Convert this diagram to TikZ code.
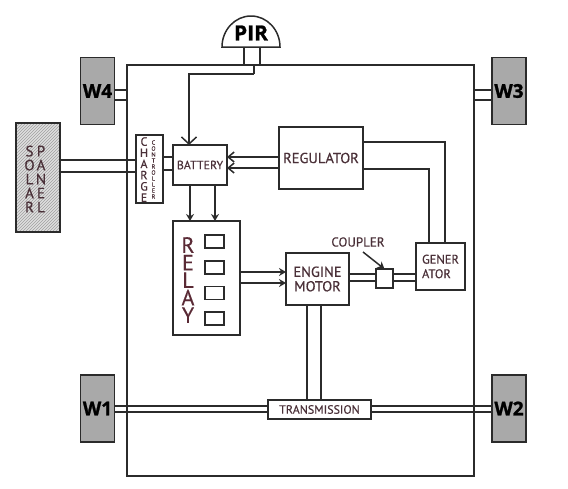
\documentclass[tikz,border=0pt]{standalone}
\usepackage{fontspec}
\setmainfont{PT Sans}[FakeBold=0.35]
\newfontfamily\wheelfont{Open Sans}[FakeBold=1.2]
\usepackage{xcolor}
\usetikzlibrary{arrows.meta, patterns}
\definecolor{wheelgray}{HTML}{A9A9A9}
\definecolor{linedark}{HTML}{2B2B2B}
\definecolor{labeltext}{HTML}{4A3038}
\definecolor{relaytext}{HTML}{5A2A35}

\begin{document}
\begin{tikzpicture}[x=1pt, y=-1pt, line width=1.5pt, draw=linedark,
    block/.style={rectangle, draw=linedark, fill=white, inner sep=0pt, outer sep=0pt, align=center,
      text=labeltext},
    wheel/.style={block, fill=wheelgray, minimum width=34pt, minimum height=67pt, text=black,
      font=\wheelfont\bfseries\fontsize{19}{19}\selectfont},
    stacked/.style={inner sep=0pt, outer sep=0pt, align=center, text=labeltext},
    wire/.style={draw=linedark, line width=1.5pt},
    barb/.style={wire, -{Straight Barb[length=6pt, width=10pt]}},
    bigbarb/.style={wire, -{Straight Barb[length=7pt, width=15pt]}},
    tip/.style={wire, -{Stealth[length=7pt, width=8pt]}}]
    \useasboundingbox (0,0) rectangle (568,488);
    \node[rectangle, draw=linedark, inner sep=0pt, outer sep=0pt, minimum width=347pt, minimum height=411pt] (frame) at (300.5,270.5) {};
    \node[wheel] (w4) at (97.5,91) {W4};
    \node[wheel] (w3) at (509,91) {W3};
    \node[wheel] (w1) at (97.5,408.5) {W1};
    \node[wheel] (w2) at (509,408.5) {W2};
    \node[inner sep=0pt, outer sep=0pt, minimum width=58pt, minimum height=28pt, text=black,
      font=\wheelfont\bfseries\fontsize{21}{21}\selectfont] (pir) at (251,33) {PIR};
    \draw[wire, fill=none] (pir.south west) arc[start angle=180, end angle=360, x radius=29, y radius=31] -- cycle;
    \node[block, preaction={fill=gray!25}, pattern=north east lines, pattern color=gray!75, minimum width=44pt, minimum height=109pt] (solar) at (38,177.5) {};
    \node[stacked, font=\fontsize{15}{14}\selectfont] (solartext) at (29.5,179) {S\\O\\L\\A\\R};
    \node[stacked, font=\fontsize{15}{14}\selectfont] (paneltext) at (41,179) {P\\A\\N\\E\\L};
    \node[block, minimum width=27pt, minimum height=68pt] (charge) at (149.5,169) {};
    \node[stacked, font=\fontsize{12}{11.2}\selectfont] (chargetext) at (144,169.5) {C\\H\\A\\R\\G\\E};
    \node[stacked, font=\fontsize{6}{6}\selectfont] (controltext) at (153.5,169.5) {C\\O\\N\\T\\R\\O\\L\\L\\E\\R};
    \node[block, minimum width=54pt, minimum height=40pt, font=\fontsize{12}{12}\selectfont] (battery) at (200,165) {BATTERY};
    \node[block, minimum width=84pt, minimum height=62pt, font=\fontsize{14.5}{14.5}\selectfont] (regulator) at (321,158) {REGULATOR};
    \node[block, minimum width=67pt, minimum height=114pt] (relay) at (206.5,278) {};
    \node[stacked, text=relaytext, font=\fontsize{22}{17.5}\selectfont] (relaytext) at (188,280) {R\\E\\L\\A\\Y};
    \foreach \n/\y in {a/241.5, b/267.5, c/293, d/318.5}
      \node[block, minimum width=19pt, minimum height=13pt] (sw\n) at (214.5,\y) {};
    \node[block, minimum width=63pt, minimum height=52pt, font=\fontsize{14.5}{14.5}\selectfont] (engine) at (317.5,279) {ENGINE\\MOTOR};
    \node[block, minimum width=17pt, minimum height=19pt] (coupler) at (384.5,278.5) {};
    \node[block, minimum width=49pt, minimum height=47pt, align=left, font=\fontsize{12.5}{14.5}\selectfont] (generator) at (440.5,266.5) {GENER\\ATOR};
    \node[block, minimum width=103pt, minimum height=19pt, font=\fontsize{12}{12}\selectfont] (trans) at (319.5,409.5) {TRANSMISSION};
    \node[stacked, font=\fontsize{13}{13}\selectfont] (couplertext) at (358,242) {COUPLER};
    \foreach \y in {90,100} {
      \draw[wire] (w4.east |- 0,\y) -- (frame.west |- 0,\y);
      \draw[wire] (frame.east |- 0,\y) -- (w3.west |- 0,\y);
    }
    \foreach \x in {244,260}
      \draw[wire] (pir.south -| \x,0) -- (frame.north -| \x,0);
    \coordinate (pirdrop) at (254,74);
    \draw[wire] (frame.north -| pirdrop) -- (pirdrop);
    \draw[bigbarb] (pirdrop) -| (battery.north -| 189,0);
    \foreach \y in {160,172}
      \draw[wire] (solar.east |- 0,\y) -- (charge.west |- 0,\y);
    \foreach \y in {157,170}
      \draw[wire] (charge.east |- 0,\y) -- (battery.west |- 0,\y);
    \foreach \y in {157,168}
      \draw[barb] (regulator.west |- 0,\y) -- (battery.east |- 0,\y);
    \foreach \x in {190,215}
      \draw[tip] (battery.south -| \x,0) -- (relay.north -| \x,0);
    \foreach \y in {272,283}
      \draw[tip] (relay.east |- 0,\y) -- (engine.west |- 0,\y);
    \foreach \y in {274,281} {
      \draw[wire] (engine.east |- 0,\y) -- (coupler.west |- 0,\y);
      \draw[wire] (coupler.east |- 0,\y) -- (generator.west |- 0,\y);
    }
    \draw[wire] (regulator.east |- 0,142) -| (generator.north -| 445,0);
    \draw[wire] (regulator.east |- 0,169) -| (generator.north -| 429,0);
    \foreach \x in {307,321}
      \draw[wire] (engine.south -| \x,0) -- (trans.north -| \x,0);
    \foreach \y in {406,412} {
      \draw[wire] (w1.east |- 0,\y) -- (trans.west |- 0,\y);
      \draw[wire] (trans.east |- 0,\y) -- (w2.west |- 0,\y);
    }
    \coordinate (couplerfrom) at (363,252);
    \draw[tip] (couplerfrom) -- (coupler.north);
  \end{tikzpicture}
\end{document}
